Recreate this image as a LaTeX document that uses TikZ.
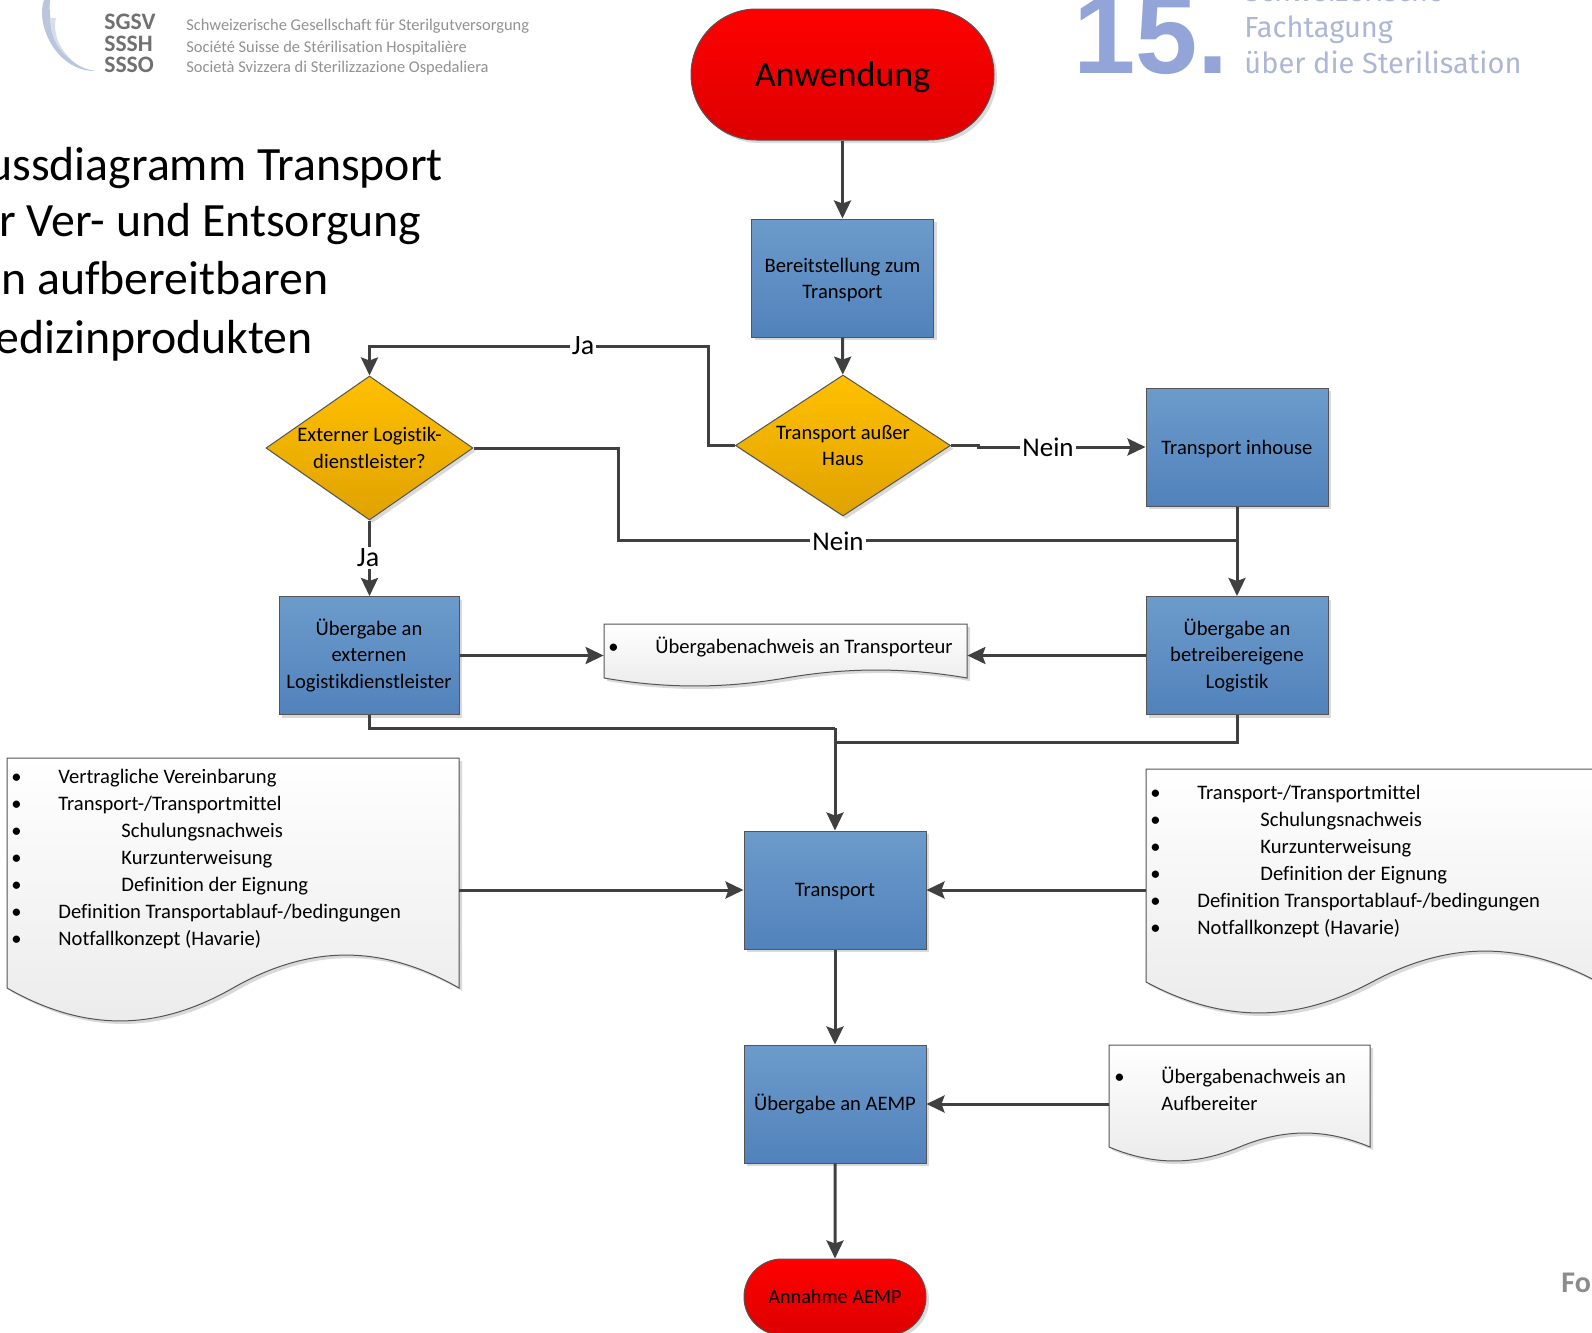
\documentclass[tikz,border=0pt]{standalone}
\usepackage{fontspec}
\setmainfont[Ligatures=NoCommon]{Carlito}
\newfontfamily\numfont{Liberation Sans}
\newfontfamily\firafont{Fira Sans}
\usetikzlibrary{shapes.geometric, shapes.misc, arrows.meta, shadows}
\definecolor{boxtop}{RGB}{108, 155, 203}
\definecolor{boxbot}{RGB}{81, 130, 187}
\definecolor{redtop}{RGB}{255, 0, 0}
\definecolor{redbot}{RGB}{221, 0, 0}
\definecolor{goldtop}{RGB}{255, 192, 0}
\definecolor{goldbot}{RGB}{224, 162, 0}
\definecolor{linegray}{RGB}{64, 64, 64}
\definecolor{edgegray}{RGB}{84, 84, 84}
\definecolor{logogray}{RGB}{112, 112, 112}
\definecolor{logotext}{RGB}{145, 145, 145}
\definecolor{logoarc}{RGB}{186, 198, 222}
\definecolor{numblue}{RGB}{146, 164, 216}
\definecolor{talkblue}{RGB}{174, 182, 214}
\tikzset{
  softshadow/.style={drop shadow={shadow xshift=1.5pt, shadow yshift=-1.5pt, fill=black, opacity=0.15}},
  procbox/.style={draw=edgegray, line width=0.5pt, top color=boxtop, bottom color=boxbot, softshadow,
    minimum width=91pt, minimum height=59pt, inner sep=0pt, align=center, font=\fontsize{10.3}{13.1}\selectfont},
  textlow/.style={text depth=0pt},
  terminal/.style={rounded rectangle, draw=edgegray, line width=0.5pt, top color=redtop, bottom color=redbot, softshadow, inner sep=0pt},
  decision/.style={diamond, draw=edgegray, line width=0.5pt, top color=goldtop, bottom color=goldbot, softshadow,
    inner sep=0pt, align=center, font=\fontsize{10.3}{13.1}\selectfont},
  docbox/.style={draw=edgegray, line width=0.5pt, top color=white, bottom color=black!8, softshadow},
  doctext/.style={anchor=north west, inner sep=0pt, align=left, font=\fontsize{10.3}{13.5}\selectfont},
  flow/.style={draw=linegray, line width=1.5pt, -{Stealth[length=9pt, width=8.5pt, inset=1.5pt]}},
  plainflow/.style={draw=linegray, line width=1.5pt},
  edgelabel/.style={fill=white, inner sep=1pt, font=\fontsize{13.5}{15}\selectfont},
  jalabel/.style={edgelabel, font=\fontsize{14}{16}\selectfont},
  titleline/.style={anchor=base west, inner sep=0pt, font=\fontsize{23.9}{26}\selectfont},
  logoline/.style={anchor=base west, inner sep=0pt, font=\fontsize{8.22}{9}\selectfont, text=logotext},
  logomark/.style={anchor=base west, inner sep=0pt, font=\fontsize{11.8}{12}\selectfont\bfseries, text=logogray},
  talkline/.style={anchor=base west, inner sep=0pt, font=\fontsize{14.5}{16}\firafont, text=talkblue},
}
% wavy sheet: name, left, top, right, bottom, wave height
\newcommand{\docshape}[6]{
  \draw[docbox] (#2,#3) -- (#4,#3) -- (#4,#5)
    .. controls ({#4-0.17*(#4-#2)},{#5-1.33*#6}) and ({(#2+#4)/2+0.17*(#4-#2)},{#5-1.33*#6}) .. ({(#2+#4)/2},#5)
    .. controls ({(#2+#4)/2-0.17*(#4-#2)},{#5+1.33*#6}) and ({#2+0.17*(#4-#2)},{#5+1.33*#6}) .. (#2,#5) -- cycle;
  \node[inner sep=0pt, minimum width={(#4-#2)*0.5pt}, minimum height={(#5-#3)*0.5pt}] (#1) at ({(#2+#4)/2},{(#3+#5)/2}) {};
}
\newcommand{\bul}{\makebox[23.5pt][l]{\textbullet}}
\newcommand{\subbul}{\makebox[55pt][l]{\textbullet}}
\newcommand{\zw}[1]{\makebox[0pt]{#1}}

\begin{document}
\begin{tikzpicture}[x=0.5pt, y=-0.5pt]
  \useasboundingbox (0, 0) rectangle (1592, 1333);
  \clip (0, 0) rectangle (1592, 1333);

  % Logo left
  \fill[logoarc] (44, 0) .. controls (35, 25) and (57, 72) .. (96, 71) .. controls (66, 68) and (47, 35) .. (50, 0) -- cycle;
  \fill[logoarc!60] (50, 18) -- (56, 18) .. controls (52, 35) and (62, 52) .. (72, 60) .. controls (58, 52) and (50, 35) .. (50, 18) -- cycle;
  \node[logomark] (sgsv) at (104, 30) {SGSV};
  \node[logomark] (sssh) at (104, 51) {SSSH};
  \node[logomark] (ssso) at (104, 72) {SSSO};
  \node[logoline] (nameDe) at (186, 31) {Schweizerische Gesellschaft für Sterilgutversorgung};
  \node[logoline] (nameFr) at (186, 52) {Société Suisse de Stérilisation Hospitalière};
  \node[logoline] (nameIt) at (186, 72) {Società Svizzera di Sterilizzazione Ospedaliera};

  % Logo right
  \node[anchor=base west, inner sep=0pt, font=\fontsize{56}{60}\numfont\bfseries, text=numblue] (num) at (1073, 73) {15.};
  \node[talkline] (talkA) at (1244, 1.5) {Schweizerische};
  \node[talkline] (talkB) at (1244, 37) {Fachtagung};
  \node[talkline] (talkC) at (1244, 73) {über die Sterilisation};

  % Title
  \node[titleline] (titleA) at (-13, 180) {ussdiagramm Transport};
  \node[titleline] (titleB) at (-1, 236) {r Ver- und Entsorgung};
  \node[titleline] (titleC) at (1, 294) {n aufbereitbaren};
  \node[titleline] (titleD) at (-5, 353) {edizinprodukten};

  % Main column
  \node[terminal, minimum width=151.5pt, minimum height=65.5pt, font=\fontsize{18}{20}\selectfont, text depth=0pt] (start) at (842.5, 74.5) {Anwendung};
  \node[procbox, textlow] (bereit) at (842.5, 278) {Bereitstellung zum\\Transport};
  \node[decision, minimum width=107.5pt, minimum height=70.5pt, aspect=1.52] (ausser) at (843, 445.5) {\zw{Transport außer}\\\zw{Haus}};
  \node[decision, minimum width=103.5pt, minimum height=72pt, aspect=1.44] (extern) at (369.5, 448) {\zw{Externer Logistik-}\\\zw{dienstleister?}};
  \node[procbox, textlow] (inhouse) at (1237, 447) {Transport inhouse};
  \node[procbox, minimum width=90pt] (uebExt) at (369, 655.5) {Übergabe an\\externen\\Logistikdienstleister};
  \node[procbox] (uebOwn) at (1237, 655.5) {Übergabe an\\betreibereigene\\Logistik};
  \node[procbox, textlow] (trans) at (835, 890) {Transport};
  \node[procbox] (uebAemp) at (835, 1104) {Übergabe an AEMP};
  \node[terminal, minimum width=91pt, minimum height=38pt, font=\fontsize{10.1}{12}\selectfont] (ende) at (835, 1297) {Annahme AEMP};

  % Sheets
  \docshape{docNach}{604}{624}{967}{678}{8}
  \node[doctext] (docNachText) at (608, 637) {\bul Übergabenachweis an Transporteur};
  \docshape{docLeft}{7}{758}{459}{988}{33}
  \node[doctext] (docLeftText) at (11, 769) {\bul Vertragliche Vereinbarung\\\bul Transport-/Transportmittel\\\subbul Schulungsnachweis\\\subbul Kurzunterweisung\\\subbul Definition der Eignung\\\bul Definition Transportablauf-/bedingungen\\\bul Notfallkonzept (Havarie)};
  \docshape{docRight}{1146}{769}{1598}{982}{31}
  \node[doctext] (docRightText) at (1150, 785) {\bul Transport-/Transportmittel\\\subbul Schulungsnachweis\\\subbul Kurzunterweisung\\\subbul Definition der Eignung\\\bul Definition Transportablauf-/bedingungen\\\bul Notfallkonzept (Havarie)};
  \docshape{docAuf}{1109}{1045}{1370}{1147}{14}
  \node[doctext] (docAufText) at (1114, 1067) {\bul Übergabenachweis an\\\hspace*{23.5pt}Aufbereiter};

  % Other corner
  \node[anchor=base west, inner sep=0pt, font=\fontsize{15}{16}\selectfont\bfseries, text=black!45] (foot) at (1561, 1292) {Fo};

  % Connectors
  \draw[flow] (start) -- (bereit);
  \draw[flow] (bereit) -- (ausser);
  \draw[flow] (ausser.west) -| (708, 346) -| (extern.north);
  \draw[flow] (ausser.east) -| (978, 447) -- (inhouse.west);
  \coordinate (neinJoin) at (1237, 540);
  \draw[plainflow] (extern.east) -| (618, 540) -- (neinJoin);
  \draw[flow] (inhouse) -- (uebOwn);
  \draw[flow] (extern.south) -- (extern.south |- uebExt.north);
  \draw[flow] (uebExt.east) -- (docNach.west |- uebExt.east);
  \draw[flow] (uebOwn.west) -- (docNach.east |- uebOwn.west);
  \coordinate (mergeOwn) at (835, 742);
  \draw[plainflow] (uebOwn.south) |- (mergeOwn);
  \coordinate (mergeExt) at (835, 728);
  \draw[plainflow] (uebExt.south) |- (mergeExt);
  \draw[flow] (mergeExt) -- (trans.north);
  \draw[flow] (docLeft.east |- trans.west) -- (trans.west);
  \draw[flow] (docRight.west |- trans.east) -- (trans.east);
  \draw[flow] (trans) -- (uebAemp);
  \draw[flow] (docAuf.west |- uebAemp.east) -- (uebAemp.east);
  \draw[flow] (uebAemp) -- (ende);

  % Edge labels
  \node[jalabel] (labJaTop) at (583, 346) {Ja};
  \node[edgelabel] (labNeinTop) at (1048, 447) {Nein};
  \node[edgelabel] (labNeinLow) at (838, 541) {Nein};
  \node[jalabel] (labJaLow) at (368, 558) {Ja};
\end{tikzpicture}
\end{document}
